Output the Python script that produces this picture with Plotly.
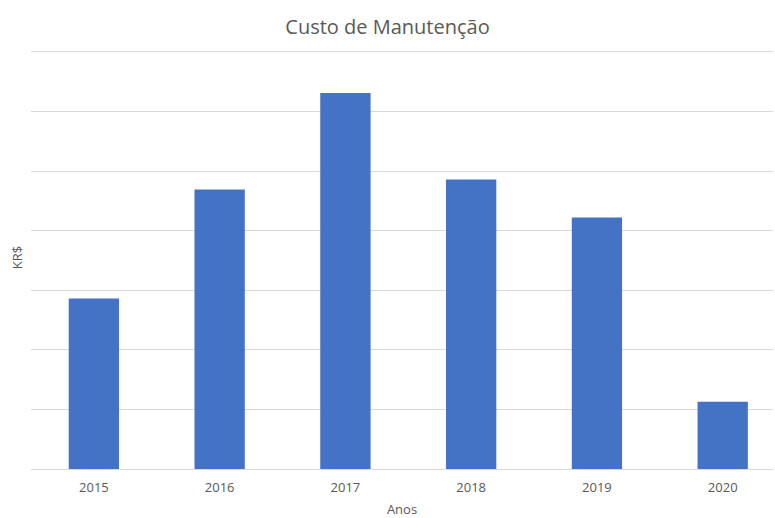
import plotly.graph_objects as go

anos = ["2015", "2016", "2017", "2018", "2019", "2020"]
custo = [2.86, 4.69, 6.31, 4.86, 4.22, 1.13]

title_text = "Custo de Manutenção"
x_title = "Anos"
y_title = "KR$"

fig = go.Figure(go.Bar(x=anos, y=custo, marker=dict(color="#4472C4", line=dict(width=0))))

fig.update_layout(
    width=775, height=518,
    margin=dict(l=31, r=2, t=46, b=49),
    paper_bgcolor="white", plot_bgcolor="white",
    bargap=0.6,
    showlegend=False,
    font=dict(family="Open Sans", color="#595959"),
    title=dict(text=title_text, x=0.5, xanchor="center", y=0.948, yanchor="middle",
               font=dict(size=20, color="#595959")),
    xaxis=dict(type="category", range=[-0.5, 5.4], showgrid=False, showline=False,
               ticks="", tickfont=dict(size=13, color="#595959"), ticklabelstandoff=9,
               title=dict(text=x_title, standoff=21, font=dict(size=13, color="#595959")),
               automargin=False),
    yaxis=dict(range=[0, 7.1], tick0=0, dtick=1, showgrid=True, gridcolor="#d9d9d9", gridwidth=1,
               zeroline=True, zerolinecolor="#d9d9d9", zerolinewidth=1,
               showticklabels=False, ticks="",
               title=dict(text=y_title, standoff=4, font=dict(size=13, color="#595959")),
               automargin=False),
)

fig.write_html("out.html")
